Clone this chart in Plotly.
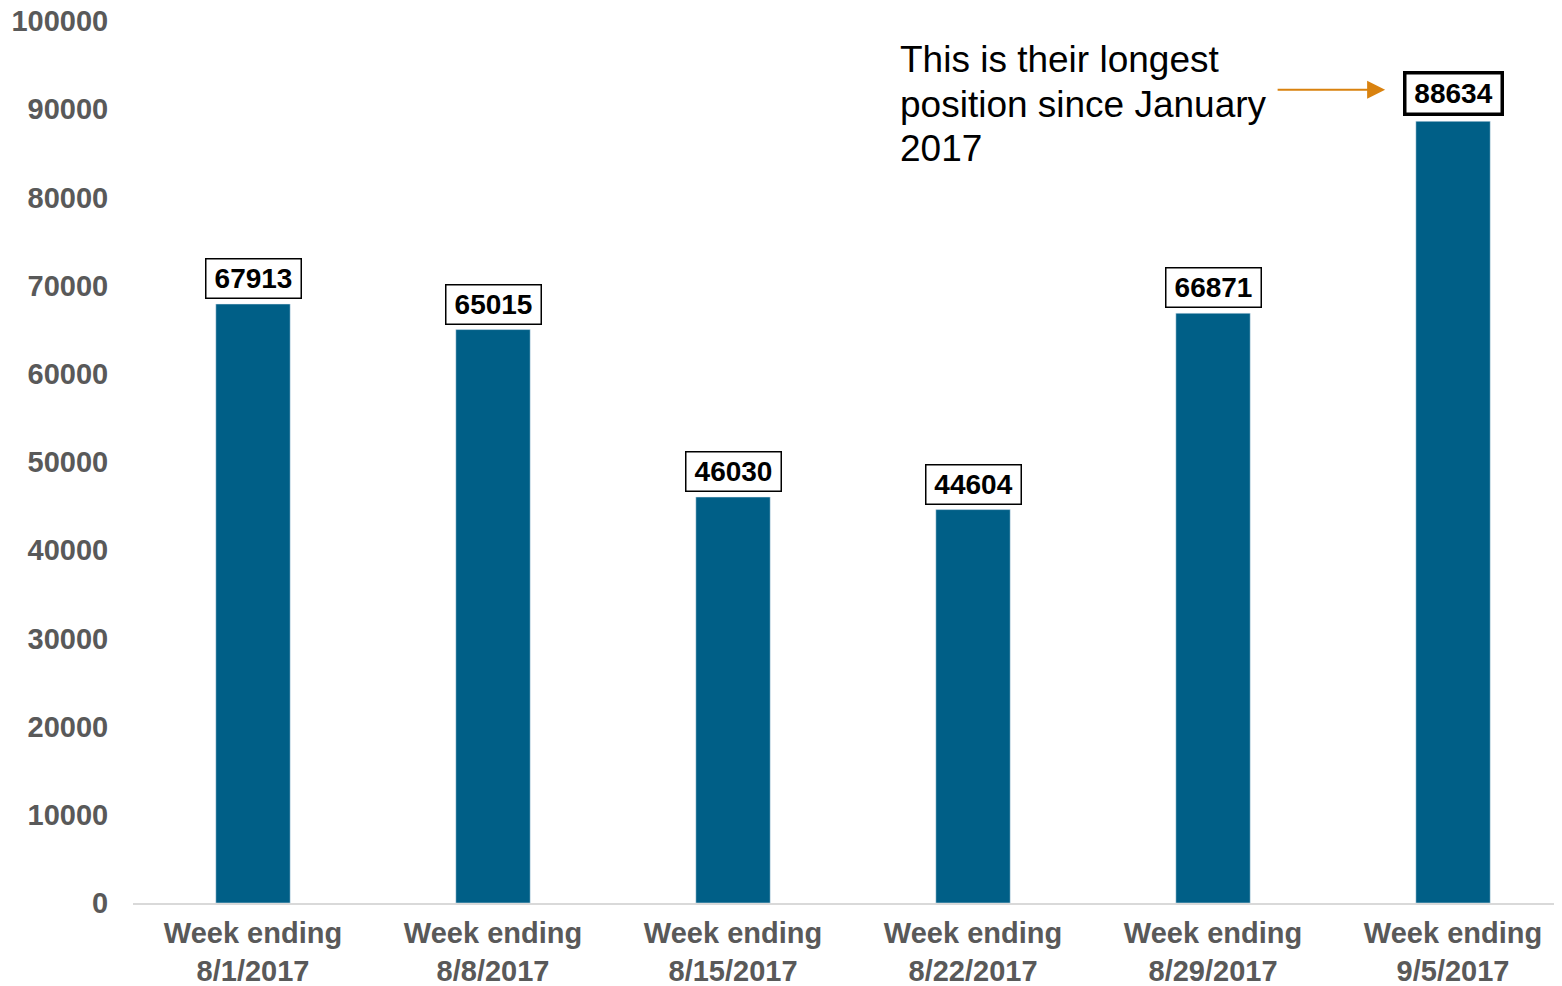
import plotly.graph_objects as go

weeks = ["Week ending<br>8/1/2017", "Week ending<br>8/8/2017", "Week ending<br>8/15/2017",
         "Week ending<br>8/22/2017", "Week ending<br>8/29/2017", "Week ending<br>9/5/2017"]
positions = [67913, 65015, 46030, 44604, 66871, 88634]
y_ticks = [0, 10000, 20000, 30000, 40000, 50000, 60000, 70000, 80000, 90000, 100000]

note_lines = ["This is their longest", "position since January", "2017"]

FONT = "Liberation Sans, Arial"

fig = go.Figure()
fig.add_trace(go.Bar(x=weeks, y=positions, width=0.31, marker_color="#005F87",
                     hoverinfo="x+y"))

# boxed value labels above each bar
for i, (w, v) in enumerate(zip(weeks, positions)):
    last = i == len(positions) - 1
    fig.add_annotation(x=w, y=v, text=str(v), showarrow=False,
                       yanchor="bottom", yshift=5, width=92, height=36,
                       font=dict(size=28, color="black", family=FONT, weight="bold"),
                       bgcolor="white", bordercolor="black",
                       borderwidth=3.5 if last else 1.5, borderpad=1)

# callout text (one annotation per line to keep the tight line spacing) + arrow
for k, line in enumerate(note_lines):
    fig.add_annotation(xref="paper", yref="paper", x=0.535, y=0.9558 - k * 0.05,
                       xanchor="left", yanchor="middle", text=line, showarrow=False,
                       font=dict(size=37, color="black", family=FONT))
fig.add_annotation(x=4.717, y=92200, ax=-109, ay=0, text="", showarrow=True,
                   arrowhead=2, arrowsize=1.8, arrowwidth=2, arrowcolor="#D9820F")

# page body has an 8px margin, so the figure is a bit smaller than the window
fig.update_layout(
    width=1554, height=978,
    margin=dict(l=125, r=0, t=13, b=83),
    plot_bgcolor="white", paper_bgcolor="white",
    showlegend=False,
    font=dict(family=FONT, color="#595959"),
)
fig.update_xaxes(range=[-0.5, 5.454], showline=True, linecolor="#D9D9D9", linewidth=2,
                 showgrid=False, ticks="outside", ticklen=3, tickcolor="rgba(0,0,0,0)",
                 automargin=False, ticklabeloverflow="allow",
                 tickfont=dict(size=29, color="#595959", family=FONT, weight="bold"))
fig.update_yaxes(range=[0, 100000], tickvals=y_ticks, showgrid=False, zeroline=False,
                 showline=False, ticks="outside", ticklen=18, tickcolor="rgba(0,0,0,0)",
                 automargin=False, tickformat="d", ticklabeloverflow="allow",
                 tickfont=dict(size=29, color="#595959", family=FONT, weight="bold"))

fig.write_html("out.html")
